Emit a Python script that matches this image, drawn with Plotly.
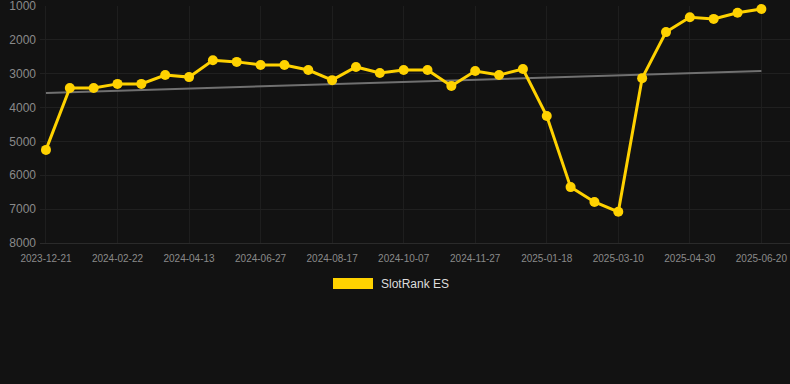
import plotly.graph_objects as go

# Data
rank_values = [5250, 3420, 3420, 3300, 3300, 3040, 3100, 2600, 2650, 2740, 2740,
               2890, 3190, 2800, 2980, 2890, 2890, 3360, 2920, 3040, 2860, 4250,
               6350, 6790, 7080, 3130, 1770, 1330, 1380, 1200, 1090]
point_index = list(range(len(rank_values)))
tick_labels = ["2023-12-21", "2024-02-22", "2024-04-13", "2024-06-27", "2024-08-17",
               "2024-10-07", "2024-11-27", "2025-01-18", "2025-03-10", "2025-04-30",
               "2025-06-20"]
tick_positions = point_index[::3]
trend_x = [point_index[0], point_index[-1]]
trend_values = [3570, 2920]
y_ticks = [1000, 2000, 3000, 4000, 5000, 6000, 7000, 8000]
series_name = "SlotRank ES"

GOLD = "#FFD200"
BG = "#121212"

fig = go.Figure()
fig.add_trace(go.Scatter(
    x=trend_x, y=trend_values, mode="lines",
    line=dict(color="#707070", width=2), showlegend=False, hoverinfo="skip"))
fig.add_trace(go.Scatter(
    x=point_index, y=rank_values, mode="lines+markers", name=series_name,
    line=dict(color=GOLD, width=3), marker=dict(color=GOLD, size=10),
    showlegend=False, cliponaxis=False))

fig.update_layout(
    width=790, height=384,
    paper_bgcolor=BG, plot_bgcolor=BG,
    margin=dict(l=40, r=0, t=6, b=141),
    font=dict(family="Liberation Sans, Arial, sans-serif", color="#8a8a8a"),
    showlegend=False,
    xaxis=dict(
        range=[-0.25, 31.2], tickmode="array", tickvals=tick_positions,
        ticktext=tick_labels, tickfont=dict(size=10, color="#8a8a8a"),
        showgrid=True, gridcolor="#1e1e1e", gridwidth=1,
        zeroline=False, showline=True, linecolor="#2a2a2a", linewidth=1,
        ticks="", ticklabelstandoff=6,
    ),
    yaxis=dict(
        range=[8001, 999], tickmode="array", tickvals=y_ticks,
        tickfont=dict(size=12, color="#8a8a8a"),
        showgrid=True, gridcolor="#202020", gridwidth=1,
        zeroline=False, showline=False, ticks="", ticklabelstandoff=3,
        ticklabeloverflow="allow",
    ),
    shapes=[dict(type="rect", xref="paper", yref="paper",
                 x0=(333 - 40) / 750, x1=(373 - 40) / 750,
                 y0=(384 - 141 - 289) / 237, y1=(384 - 141 - 278) / 237,
                 fillcolor=GOLD, line=dict(width=0))],
    annotations=[dict(text=series_name, xref="paper", yref="paper",
                      x=(379 - 40) / 750, y=(384 - 141 - 284) / 237,
                      xanchor="left", yanchor="middle", showarrow=False,
                      font=dict(size=12, color="#dddddd"))],
)

fig.write_html(
    "out.html",
    config={"displayModeBar": False, "responsive": False},
    post_script="document.body.style.margin='0';document.body.style.background='#121212';",
)
